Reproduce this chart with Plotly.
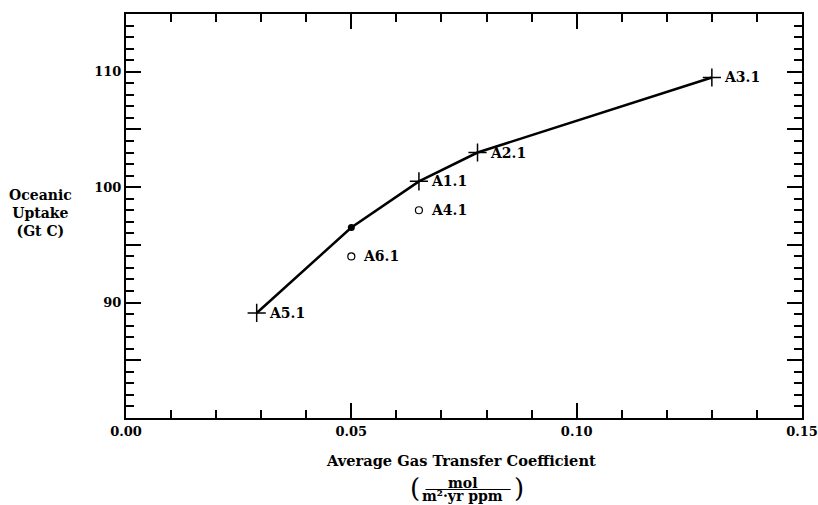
import plotly.graph_objects as go

# Model runs along the main curve
curve_x = [0.029, 0.05, 0.065, 0.078, 0.130]
curve_y = [89.1, 96.5, 100.5, 103.0, 109.5]

# Labelled runs on the curve (marked with crosses)
cross_labels = ["A5.1", "A1.1", "A2.1", "A3.1"]
cross_x = [0.029, 0.065, 0.078, 0.130]
cross_y = [89.1, 100.5, 103.0, 109.5]

# Reference run (filled dot) on the curve
dot_x = [0.05]
dot_y = [96.5]

# Off-curve runs (open circles)
open_labels = ["A4.1", "A6.1"]
open_x = [0.065, 0.05]
open_y = [98.0, 94.0]

# Axis ticks
y_tickvals = [85, 90, 95, 100, 105, 110]
y_ticktext = ["", "90", "", "100", "", "110"]
x_tickvals = [0.0, 0.05, 0.10, 0.15]
x_ticktext = ["0.00", "0.05", "0.10", "0.15"]

FONT = "DejaVu Serif"


def bold(s):
    return "<b>" + s + "</b>"


fig = go.Figure()
fig.add_trace(go.Scatter(x=curve_x, y=curve_y, mode="lines",
                         line=dict(color="black", width=2.5), hoverinfo="skip"))
fig.add_trace(go.Scatter(x=cross_x, y=cross_y, mode="markers",
                         marker=dict(symbol="cross-thin", size=13, color="black",
                                     line=dict(color="black", width=1.5))))
fig.add_trace(go.Scatter(x=dot_x, y=dot_y, mode="markers",
                         marker=dict(symbol="circle", size=7, color="black")))
fig.add_trace(go.Scatter(x=open_x, y=open_y, mode="markers",
                         marker=dict(symbol="circle-open", size=7, color="black",
                                     line=dict(color="black", width=1.2))))

for lab, xv, yv in list(zip(cross_labels, cross_x, cross_y)) + list(zip(open_labels, open_x, open_y)):
    fig.add_annotation(x=xv, y=yv, text=bold(lab), showarrow=False, xanchor="left",
                       yanchor="middle", xshift=10,
                       font=dict(family=FONT, size=14, color="black"))

axis_common = dict(showgrid=False, zeroline=False, showline=True, linecolor="black",
                   linewidth=2, mirror="ticks", ticks="inside", tickcolor="black",
                   tickwidth=1.5, ticklabeloverflow="allow",
                   tickfont=dict(family=FONT, size=13, color="black"))

fig.update_xaxes(range=[0, 0.150001], tickmode="array", tickvals=x_tickvals,
                 ticktext=[bold(t) for t in x_ticktext], ticklen=15,
                 minor=dict(ticks="inside", dtick=0.01, tick0=0, ticklen=8,
                            tickcolor="black", tickwidth=1.5),
                 **axis_common)
fig.update_yaxes(range=[80, 115], tickmode="array", tickvals=y_tickvals,
                 ticktext=[bold(t) if t else "" for t in y_ticktext], ticklen=15,
                 minor=dict(ticks="inside", dtick=1, tick0=0, ticklen=8,
                            tickcolor="black", tickwidth=1.5),
                 **axis_common)

# Y-axis title, written horizontally on three lines
fig.add_annotation(xref="paper", yref="paper", x=-0.127, y=0.507,
                   text=bold("Oceanic<br>Uptake<br>(Gt C)"), showarrow=False,
                   xanchor="center", yanchor="middle", align="center",
                   font=dict(family=FONT, size=14, color="black"))

# X-axis title with the unit written as a fraction in parentheses
fig.add_annotation(xref="paper", yref="paper", x=0.4955, y=-0.106,
                   text=bold("Average Gas Transfer Coefficient"), showarrow=False,
                   xanchor="center", yanchor="middle",
                   font=dict(family=FONT, size=14.6, color="black"))
fig.add_annotation(xref="paper", yref="paper", x=0.4985, y=-0.160,
                   text=bold("mol"), showarrow=False, xanchor="center", yanchor="middle",
                   font=dict(family=FONT, size=14, color="black"))
fig.add_annotation(xref="paper", yref="paper", x=0.4985, y=-0.194,
                   text=bold("m²·yr ppm"), showarrow=False, xanchor="center", yanchor="middle",
                   font=dict(family=FONT, size=14, color="black"))
fig.add_shape(type="line", xref="paper", yref="paper", x0=0.443, x1=0.569,
              y0=-0.177, y1=-0.177, line=dict(color="black", width=1.2))
fig.add_annotation(xref="paper", yref="paper", x=0.428, y=-0.174,
                   text="(", showarrow=False, xanchor="center", yanchor="middle",
                   font=dict(family=FONT, size=26, color="black"))
fig.add_annotation(xref="paper", yref="paper", x=0.582, y=-0.174,
                   text=")", showarrow=False, xanchor="center", yanchor="middle",
                   font=dict(family=FONT, size=26, color="black"))

fig.update_layout(width=818, height=505, showlegend=False,
                  paper_bgcolor="white", plot_bgcolor="white",
                  margin=dict(l=126, r=16, t=14, b=87, autoexpand=False))

fig.write_html("out.html")
